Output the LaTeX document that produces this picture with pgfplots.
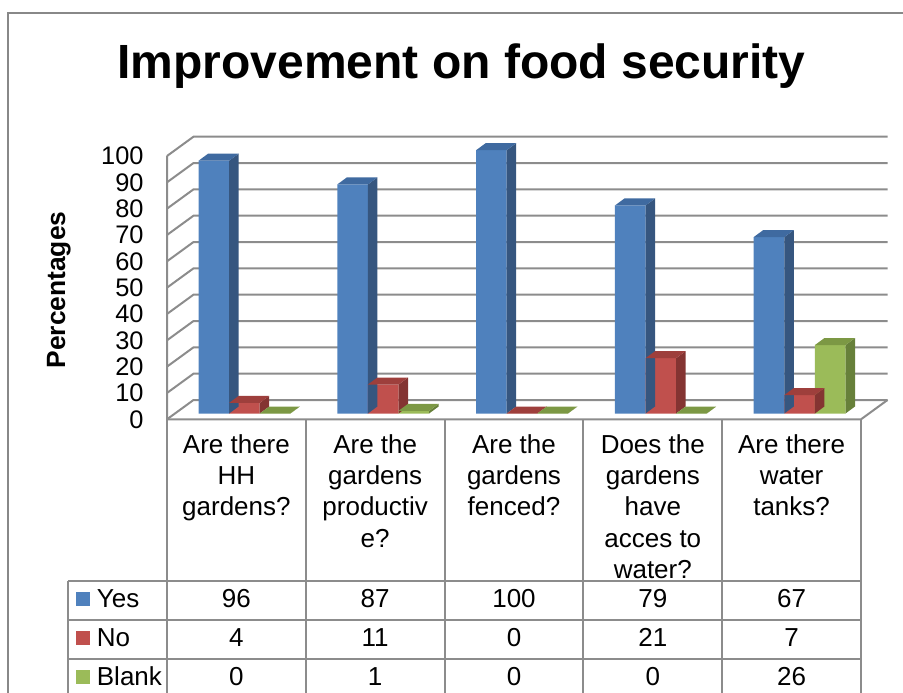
\documentclass[border=0pt]{standalone}
\usepackage{fontspec}
\setmainfont{Liberation Sans}
\usepackage{pgfplots}
\usepackage{pgfplotstable}
\pgfplotsset{compat=1.18}

\definecolor{cBlue}{HTML}{4F81BD}
\definecolor{cBlueTop}{HTML}{3F6AA0}
\definecolor{cBlueSide}{HTML}{36567F}
\definecolor{cRed}{HTML}{C0504D}
\definecolor{cRedTop}{HTML}{9E3F3C}
\definecolor{cRedSide}{HTML}{843432}
\definecolor{cGreen}{HTML}{9BBB59}
\definecolor{cGreenTop}{HTML}{7C9844}
\definecolor{cGreenSide}{HTML}{67803A}
\definecolor{gridC}{HTML}{8C8C8C}
\definecolor{frameC}{HTML}{888888}

% bar width 15.3pt, depth offset (4.75pt, 3.5pt)
\pgfdeclareplotmark{bartop}{%
  \pgfpathmoveto{\pgfqpoint{-7.65pt}{0pt}}%
  \pgfpathlineto{\pgfqpoint{7.65pt}{0pt}}%
  \pgfpathlineto{\pgfqpoint{12.4pt}{3.5pt}}%
  \pgfpathlineto{\pgfqpoint{-2.9pt}{3.5pt}}%
  \pgfpathclose
  \pgfusepath{fill}}
\pgfdeclareplotmark{barside}{%
  \pgfpathmoveto{\pgfqpoint{7.65pt}{0pt}}%
  \pgfpathlineto{\pgfqpoint{12.4pt}{3.5pt}}%
  \pgfpathlineto{\pgfpoint{12.4pt}{3.5pt-\barv*1.3165pt}}%
  \pgfpathlineto{\pgfpoint{7.65pt}{-\barv*1.3165pt}}%
  \pgfpathclose
  \pgfusepath{fill}}

\pgfplotstableread{
x yes no blank
0 96 4 0
1 87 11 1
2 100 0 0
3 79 21 0
4 67 7 26
}\datatable

\newcommand{\tfont}{\fontsize{13pt}{15.6pt}\selectfont}

\begin{document}
\begin{tikzpicture}
\useasboundingbox (0,0) rectangle (451.5pt,346pt);
\clip (0,0) rectangle (451.5pt,346pt);
\begin{scope}[shift={(0pt,346pt)}, x=0.5pt, y=-0.5pt]
  % outer frame
  \draw[frameC, line width=0.8pt] (8,700) -- (8,13) -- (910,13);
  % title
  \node[anchor=base, inner sep=0pt, font=\fontsize{24pt}{28pt}\selectfont\bfseries] at (461.5,78.3) {Improvement on food security};
  % y label
  \node[rotate=90, anchor=base, inner sep=0pt, font=\fontsize{13.2pt}{15pt}\selectfont\bfseries] at (65,290) {Percentages};
  % back wall gridlines and left wall
  \foreach \v in {0,10,...,100} {
    \draw[gridC, line width=1pt] (167,{419.3-2.633*\v}) -- (193.5,{400-2.633*\v}) -- (887.5,{400-2.633*\v});
  }
  \draw[gridC, line width=1pt] (167,156) -- (167,419.3) -- (861,419.3) -- (887.5,400);
  % data table lines
  \draw[gridC, line width=1pt] (68,581) -- (861,581);
  \draw[gridC, line width=1pt] (68,620) -- (861,620);
  \draw[gridC, line width=1pt] (68,658.5) -- (861,658.5);
  \draw[gridC, line width=1pt] (68,697) -- (861,697);
  \draw[gridC, line width=1pt] (68,581) -- (68,700);
  \foreach \k in {0,...,5} {
    \draw[gridC, line width=1pt] ({167+138.8*\k},419.3) -- ({167+138.8*\k},700);
  }
  % legend keys
  \fill[cBlue] (76,592) rectangle (90,606);
  \fill[cRed] (76,631) rectangle (90,645);
  \fill[cGreen] (76,670) rectangle (90,684);
  \node[anchor=base west, inner sep=0pt, font=\tfont] at (96.5,607.5) {Yes};
  \node[anchor=base west, inner sep=0pt, font=\tfont] at (96.5,646.5) {No};
  \node[anchor=base west, inner sep=0pt, font=\tfont] at (96.5,685.5) {Blank};
  % table values
  \foreach \k in {0,...,4} {
    \pgfplotstablegetelem{\k}{yes}\of\datatable
    \node[anchor=base, inner sep=0pt, font=\tfont] at ({167+138.8*(\k+0.5)},607.5) {\pgfplotsretval};
    \pgfplotstablegetelem{\k}{no}\of\datatable
    \node[anchor=base, inner sep=0pt, font=\tfont] at ({167+138.8*(\k+0.5)},646.5) {\pgfplotsretval};
    \pgfplotstablegetelem{\k}{blank}\of\datatable
    \node[anchor=base, inner sep=0pt, font=\tfont] at ({167+138.8*(\k+0.5)},685.5) {\pgfplotsretval};
  }
\end{scope}

\begin{axis}[
  at={(87.5pt,139.25pt)}, anchor=south west,
  scale only axis, width=347pt, height=131.65pt,
  xmin=-0.5, xmax=4.5, ymin=0, ymax=100,
  clip=false,
  axis line style={draw=none}, tick style={draw=none}, major tick length=0pt,
  ytick={0,10,...,100},
  /pgf/number format/assume math mode=true,
  yticklabel style={anchor=east, inner sep=0pt, xshift=-15.5pt, yshift=-2.9pt, font=\fontsize{12.7pt}{15pt}\selectfont},
  xtick={0,1,2,3,4},
  xticklabels={{Are there\\HH\\gardens?},{Are the\\gardens\\productiv\\e?},{Are the\\gardens\\fenced?},{Does the\\gardens\\have\\acces to\\water?},{Are there\\water\\tanks?}},
  xticklabel style={anchor=north, align=center, inner sep=0pt, xshift=-4pt, yshift=-10.4pt, font=\tfont},
]
% Yes
\addplot[ybar, bar width=15.3pt, bar shift=-15.3pt, fill=cBlue, draw=none] table[x=x, y=yes] {\datatable};
\addplot[scatter, only marks, mark=barside, scatter/use mapped color={draw=none, fill=cBlueSide},
  visualization depends on={rawy\as\barv}] table[x expr=\thisrow{x}-0.22046, y=yes] {\datatable};
\addplot[scatter, only marks, mark=bartop, scatter/use mapped color={draw=none, fill=cBlueTop}]
  table[x expr=\thisrow{x}-0.22046, y=yes] {\datatable};
% No
\addplot[ybar, bar width=15.3pt, bar shift=0pt, fill=cRed, draw=none] table[x=x, y=no] {\datatable};
\addplot[scatter, only marks, mark=barside, scatter/use mapped color={draw=none, fill=cRedSide},
  visualization depends on={rawy\as\barv}] table[x=x, y=no] {\datatable};
\addplot[scatter, only marks, mark=bartop, scatter/use mapped color={draw=none, fill=cRedTop}]
  table[x=x, y=no] {\datatable};
% Blank
\addplot[ybar, bar width=15.3pt, bar shift=15.3pt, fill=cGreen, draw=none] table[x=x, y=blank] {\datatable};
\addplot[scatter, only marks, mark=barside, scatter/use mapped color={draw=none, fill=cGreenSide},
  visualization depends on={rawy\as\barv}] table[x expr=\thisrow{x}+0.22046, y=blank] {\datatable};
\addplot[scatter, only marks, mark=bartop, scatter/use mapped color={draw=none, fill=cGreenTop}]
  table[x expr=\thisrow{x}+0.22046, y=blank] {\datatable};
\end{axis}
\end{tikzpicture}
\end{document}
